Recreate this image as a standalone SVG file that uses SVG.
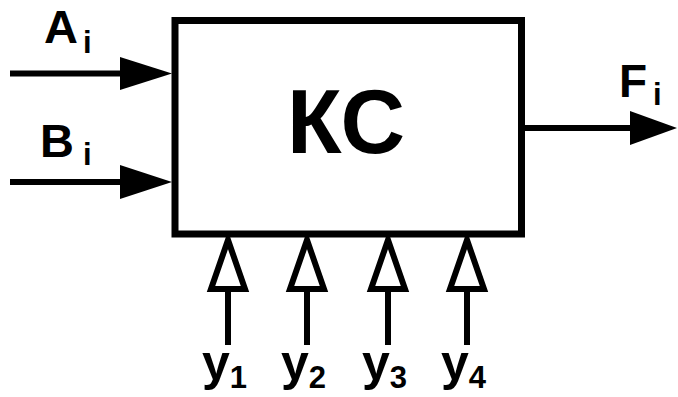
<svg xmlns="http://www.w3.org/2000/svg" width="678" height="397" viewBox="0 0 678 397">
<style>
.ln{stroke:#000;stroke-width:6;fill:none}
.hd{fill:#000;stroke:none}
.ho{fill:#fff;stroke:#000;stroke-width:6;stroke-linejoin:miter}
.t{font-family:"Liberation Sans",Arial,sans-serif;font-weight:bold;fill:#000}
</style>
<rect width="678" height="397" fill="#fff"/>
<g id="node-ks">
<rect x="175" y="20.5" width="346.5" height="213.5" fill="#fff" stroke="#000" stroke-width="7"/>
<text class="t" x="346" y="153" font-size="91" text-anchor="middle" textLength="118" lengthAdjust="spacingAndGlyphs">КС</text>
</g>
<g id="connectors">
<line class="ln" x1="10" y1="73.5" x2="125" y2="73.5"/>
<polygon class="hd" points="172,73.5 120,57 120,90"/>
<line class="ln" x1="10" y1="182" x2="125" y2="182"/>
<polygon class="hd" points="172,182 120,165 120,199"/>
<line class="ln" x1="524" y1="128" x2="635" y2="128"/>
<polygon class="hd" points="677,128 630,111 630,145"/>
<line class="ln" x1="228" y1="289" x2="228" y2="345"/>
<polygon class="ho" points="228,240 211,289 245,289"/>
<line class="ln" x1="307" y1="289" x2="307" y2="345"/>
<polygon class="ho" points="307,240 290,289 324,289"/>
<line class="ln" x1="388" y1="289" x2="388" y2="345"/>
<polygon class="ho" points="388,240 371,289 405,289"/>
<line class="ln" x1="467" y1="289" x2="467" y2="345"/>
<polygon class="ho" points="467,240 450,289 484,289"/>
</g>
<g id="label-a"><text class="t" x="44" y="43" font-size="47">A<tspan dx="5" dy="10" font-size="31">i</tspan></text></g>
<g id="label-b"><text class="t" x="40" y="157" font-size="47">B<tspan dx="9" dy="8" font-size="31">i</tspan></text></g>
<g id="label-f"><text class="t" x="619" y="97" font-size="46">F<tspan dx="6" dy="8" font-size="31">i</tspan></text></g>
<g id="label-y1"><text class="t" x="202" y="380" font-size="50">у<tspan dy="8" font-size="31">1</tspan></text></g>
<g id="label-y2"><text class="t" x="281" y="380" font-size="50">у<tspan dy="8" font-size="31">2</tspan></text></g>
<g id="label-y3"><text class="t" x="362" y="380" font-size="50">у<tspan dy="8" font-size="31">3</tspan></text></g>
<g id="label-y4"><text class="t" x="441" y="380" font-size="50">у<tspan dy="8" font-size="31">4</tspan></text></g>
</svg>
